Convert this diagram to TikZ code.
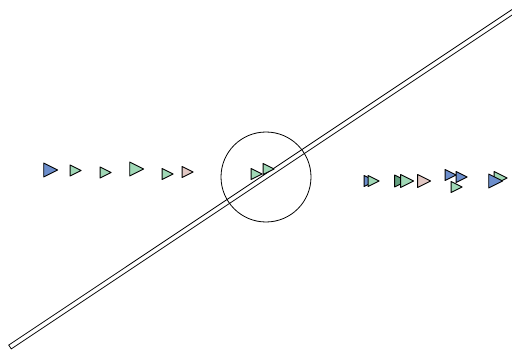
\documentclass[tikz,border=0pt]{standalone}
\usetikzlibrary{calc}
\definecolor{tblue}{RGB}{108,142,204}
\definecolor{tgreen}{RGB}{160,216,182}
\definecolor{tdgreen}{RGB}{100,160,128}
\definecolor{tpink}{RGB}{226,200,196}
\tikzset{
  tri/.pic={\draw[line width=0.9pt,line join=round,fill=\tricol] (-0.45*\trisz,0.5*\trisz) -- (0.55*\trisz,0) -- (-0.45*\trisz,-0.5*\trisz) -- cycle;},
  stickline/.style={line width=0.8pt,line join=miter},
  ring/.style={line width=0.8pt}
}
\newcommand\tricol{tgreen}
\newcommand\trisz{11}
\newcommand\mytri[4]{\renewcommand\tricol{#3}\renewcommand\trisz{#4}\pic at (#1,#2) {tri};}
\begin{document}
\begin{tikzpicture}[x=1pt,y=-1pt]
\useasboundingbox (0,0) rectangle (512,353);
\begin{scope}
\clip (0,0) rectangle (512,353);
% stick
\coordinate (sa) at (10,347);
\coordinate (sb) at (530,0.3);
\draw[stickline] ($(sa)+(-1.28,-1.91)$) -- ($(sb)+(-1.28,-1.91)$) -- ($(sb)+(1.28,1.91)$) -- ($(sa)+(1.28,1.91)$) -- cycle;
\end{scope}
% circle
\node[ring,draw,circle,minimum size=90pt,inner sep=0pt] (c) at (266,177) {};
% left triangles
\mytri{50}{170}{tblue}{14}
\mytri{75}{170.5}{tgreen}{11}
\mytri{105}{172.5}{tgreen}{11}
\mytri{136}{169}{tgreen}{14}
\mytri{167}{174}{tgreen}{11}
\mytri{187}{172}{tpink}{11}
% circle triangles
\mytri{256}{174}{tgreen}{11}
\mytri{268}{169}{tgreen}{11}
% right triangles
\mytri{369}{181}{tblue}{11}
\mytri{373}{181}{tgreen}{11}
\mytri{400}{181}{tdgreen}{12}
\mytri{406.5}{181}{tgreen}{13}
\mytri{423.5}{181}{tpink}{13}
\mytri{450}{175}{tblue}{11}
\mytri{456}{187}{tgreen}{11}
\mytri{461}{177}{tblue}{11}
\mytri{500}{178}{tgreen}{13}
\mytri{495}{181}{tblue}{14}
\end{tikzpicture}
\end{document}
